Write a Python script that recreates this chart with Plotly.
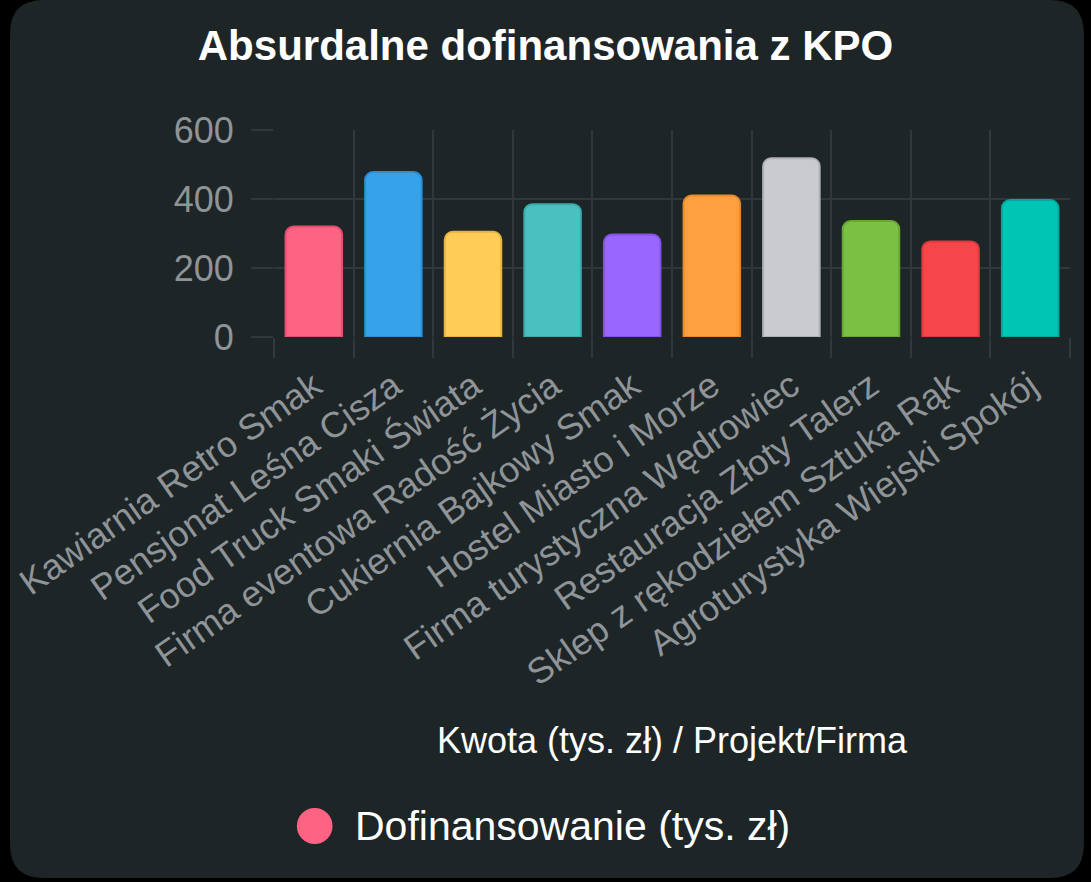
import plotly.graph_objects as go

# dane
firmy = [
    "Kawiarnia Retro Smak",
    "Pensjonat Leśna Cisza",
    "Food Truck Smaki Świata",
    "Firma eventowa Radość Życia",
    "Cukiernia Bajkowy Smak",
    "Hostel Miasto i Morze",
    "Firma turystyczna Wędrowiec",
    "Restauracja Złoty Talerz",
    "Sklep z rękodziełem Sztuka Rąk",
    "Agroturystyka Wiejski Spokój",
]
kwoty = [320, 478, 305, 385, 297, 410, 518, 336, 277, 397]
y_ticks = [0, 200, 400, 600]

kolory = ["#ff6384", "#36a2eb", "#ffcd56", "#4bc0c0", "#9966ff",
          "#ff9f40", "#c9cbcf", "#7bc043", "#f7464a", "#00c4b4"]
ramki = ["#e0506f", "#2b8fd4", "#e6b340", "#3caaaa", "#8452e8",
         "#e68a2e", "#b0b2b6", "#67a834", "#dc3a3e", "#00aa9c"]

W, H = 1091, 882
L, R, T, B = 268, 21, 130, 545
BG = "#1e2527"
GRID = "#30383a"
TICK = "#8e9498"
FONT = "Liberation Sans, Arial, sans-serif"


def px_x(p):
    return (p - L) / (W - L - R)


def px_y(p):
    return (H - B - p) / (H - T - B)


def card_path(x0, y0, x1, y1, r):
    # zaokraglony prostokat w pikselach -> wspolrzedne paper
    pts = [
        f"M {px_x(x0 + r)},{px_y(y0)}",
        f"L {px_x(x1 - r)},{px_y(y0)}",
        f"Q {px_x(x1)},{px_y(y0)} {px_x(x1)},{px_y(y0 + r)}",
        f"L {px_x(x1)},{px_y(y1 - r)}",
        f"Q {px_x(x1)},{px_y(y1)} {px_x(x1 - r)},{px_y(y1)}",
        f"L {px_x(x0 + r)},{px_y(y1)}",
        f"Q {px_x(x0)},{px_y(y1)} {px_x(x0)},{px_y(y1 - r)}",
        f"L {px_x(x0)},{px_y(y0 + r)}",
        f"Q {px_x(x0)},{px_y(y0)} {px_x(x0 + r)},{px_y(y0)}",
        "Z",
    ]
    return " ".join(pts)


fig = go.Figure()
fig.add_trace(go.Bar(
    x=firmy, y=kwoty,
    name="Dofinansowanie (tys. zł)",
    marker=dict(color=kolory, line=dict(color=ramki, width=2), cornerradius=8),
    showlegend=False,
))

fig.update_layout(
    width=W, height=H,
    margin=dict(l=L, r=R, t=T, b=B),
    paper_bgcolor="#000000",
    plot_bgcolor="rgba(0,0,0,0)",
    bargap=0.29,
    font=dict(family=FONT, color=TICK),
    title=dict(text="<b>Absurdalne dofinansowania z KPO</b>",
               x=0.5, xanchor="center", y=1 - 45 / H, yanchor="middle",
               font=dict(size=42, color="#ffffff", family=FONT)),
    shapes=[dict(type="path", xref="paper", yref="paper", layer="below",
                 path=card_path(2, 0, 1084, 878, 34),
                 fillcolor=BG, line=dict(width=0))],
)

# legenda narysowana recznie (kolo + tekst)
fig.add_shape(type="circle", xref="paper", yref="paper",
              x0=px_x(291), x1=px_x(327), y0=px_y(844), y1=px_y(808),
              fillcolor="#ff6384", line=dict(width=0))
fig.add_annotation(text="Dofinansowanie (tys. zł)", xref="paper", yref="paper",
                   x=px_x(348), y=px_y(826), xanchor="left", yanchor="middle",
                   showarrow=False, font=dict(size=41, color="#ffffff", family=FONT))

fig.update_xaxes(
    tickson="boundaries", ticks="outside", ticklen=20, tickcolor=GRID, tickwidth=2,
    showgrid=True, gridcolor=GRID, gridwidth=2,
    tickangle=-35, tickfont=dict(size=36, color=TICK), ticklabelstandoff=20,
    showline=False, zeroline=False,
    title=dict(text="Kwota (tys. zł) / Projekt/Firma",
               font=dict(size=36, color="#ffffff"), standoff=35),
)
fig.update_yaxes(
    range=[0, 600], tickvals=y_ticks,
    ticks="outside", ticklen=22, tickcolor=GRID, tickwidth=2,
    showgrid=True, gridcolor=GRID, gridwidth=2,
    tickfont=dict(size=36, color=TICK), ticklabelstandoff=10,
    zeroline=False, showline=False,
)

fig.write_html("out.html", config={"displayModeBar": False},
               post_script="document.body.style.margin='0';")
